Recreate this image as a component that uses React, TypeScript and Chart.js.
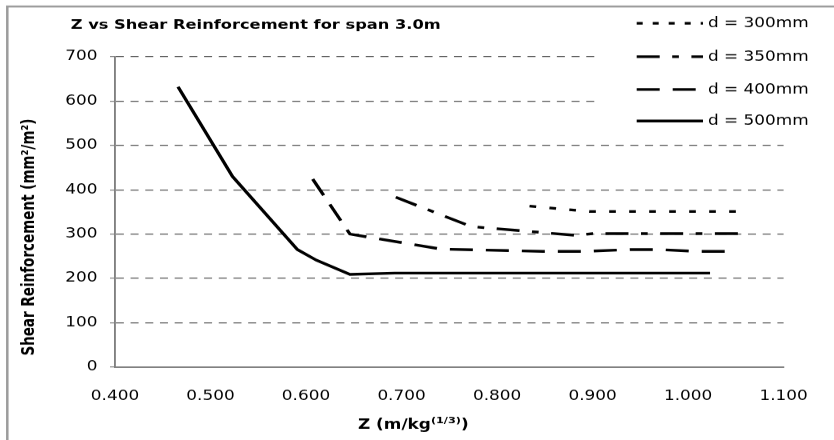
import React, { useEffect, useRef } from 'react';
import { Chart, registerables } from 'chart.js';

Chart.register(...registerables);

// ---------- data ----------
const seriesLabels = ['d = 300mm', 'd = 350mm', 'd = 400mm', 'd = 500mm'];

const zD300 = [0.834, 0.897, 1.063];
const vD300 = [363, 351, 351];

const zD350 = [0.694, 0.773, 0.883, 0.9, 1.056];
const vD350 = [383, 317, 297, 301, 301];

const zD400 = [0.607, 0.646, 0.742, 0.848, 0.89, 0.94, 0.97, 1.008, 1.039];
const vD400 = [424, 300, 266, 261, 261, 265, 265, 261, 261];

const zD500 = [0.466, 0.523, 0.591, 0.611, 0.646, 0.693, 0.743, 0.873, 1.023];
const vD500 = [632, 430, 265, 241, 209, 212, 212, 212, 212];

const xMin = 0.4;
const xMax = 1.1;
const xStep = 0.1;
const yMin = 0;
const yMax = 700;
const yStep = 100;

const titleText = 'Z vs Shear Reinforcement for span 3.0m';
const yTitleText = 'Shear Reinforcement (mm²/m²)';
const xTitleMain = 'Z (m/kg';
const xTitleSup = '(1/3)';
const xTitleEnd = ')';

// ---------- geometry (the reference is horizontally stretched) ----------
const OUT_W = 834;
const OUT_H = 440;
const LOG_W = 667;
const S = 834.01 / LOG_W; // device pixel ratio; the canvas is then squeezed vertically back to 440
const FONT = "'DejaVu Sans', sans-serif";

const dashes = [
  [6.7 / S, 13.3 / S],
  [23 / S, 12.5 / S, 6.7 / S, 12.5 / S],
  [23 / S, 13 / S],
  [],
];
const legendDashes = [[6 / S, 10 / S], dashes[1], dashes[2], []];

const toPts = (zs: number[], vs: number[]) => zs.map((z, i) => ({ x: z, y: vs[i] }));

const bgPlugin = {
  id: 'bg',
  beforeDraw(chart: any) {
    const ctx = chart.ctx as CanvasRenderingContext2D;
    ctx.save();
    ctx.fillStyle = '#ffffff';
    ctx.fillRect(0, 0, chart.width, chart.height);
    ctx.restore();
  },
};

const decorPlugin = {
  id: 'decor',
  afterDraw(chart: any) {
    const ctx = chart.ctx as CanvasRenderingContext2D;
    ctx.save();
    // outer frame
    ctx.strokeStyle = '#9c9c9c';
    ctx.lineWidth = 2;
    ctx.strokeRect(7.3 / S, 6.5, 900, 500);

    // title
    ctx.fillStyle = '#000';
    ctx.font = `bold 13px ${FONT}`;
    ctx.textAlign = 'left';
    ctx.textBaseline = 'alphabetic';
    ctx.fillText(titleText, 70.7 / S, 28.5);

    // y title
    ctx.save();
    ctx.translate(29.5 / S, 237);
    ctx.rotate(-Math.PI / 2);
    ctx.font = `bold 13.5px ${FONT}`;
    ctx.textAlign = 'center';
    ctx.textBaseline = 'middle';
    ctx.fillText(yTitleText, 0, 0);
    ctx.restore();

    // x title
    let x = 358 / S;
    const base = 429;
    ctx.font = `bold 13.5px ${FONT}`;
    ctx.fillText(xTitleMain, x, base);
    x += ctx.measureText(xTitleMain).width;
    ctx.font = `bold 9px ${FONT}`;
    ctx.fillText(xTitleSup, x, base - 6);
    x += ctx.measureText(xTitleSup).width;
    ctx.font = `bold 13.5px ${FONT}`;
    ctx.fillText(xTitleEnd, x, base);

    // legend
    ctx.fillStyle = '#ffffff';
    ctx.fillRect(600 / S, 40, 232 / S, 92);
    const rows = [23.3, 56.7, 89.5, 121];
    const lx1 = 636.7 / S;
    const lx2 = 703 / S;
    chart.data.datasets.forEach((ds: any, i: number) => {
      ctx.strokeStyle = '#000';
      ctx.lineWidth = 2.7;
      ctx.lineCap = 'butt';
      ctx.setLineDash(legendDashes[i]);
      ctx.beginPath();
      ctx.moveTo(lx1, rows[i]);
      ctx.lineTo(lx2, rows[i]);
      ctx.stroke();
      ctx.setLineDash([]);
      ctx.fillStyle = '#000';
      ctx.font = `13.5px ${FONT}`;
      ctx.textAlign = 'left';
      ctx.textBaseline = 'middle';
      ctx.fillText(ds.label, 708 / S, rows[i] + 0.5);
    });
    ctx.restore();
  },
};

export default function App() {
  const ref = useRef<HTMLCanvasElement | null>(null);

  useEffect(() => {
    document.body.style.margin = '0';
    const canvas = ref.current;
    if (!canvas) return;
    const mk = (i: number, zs: number[], vs: number[]) => ({
      label: seriesLabels[i],
      data: toPts(zs, vs),
      borderColor: '#000000',
      backgroundColor: '#000000',
      borderWidth: 2.7,
      borderDash: dashes[i],
      borderCapStyle: 'butt',
      showLine: true,
      pointRadius: 0,
      pointHoverRadius: 0,
      fill: false,
      tension: 0,
    });
    const chart = new Chart(canvas, {
      type: 'scatter',
      data: {
        datasets: [
          mk(0, zD300, vD300),
          mk(1, zD350, vD350),
          mk(2, zD400, vD400),
          mk(3, zD500, vD500),
        ],
      },
      options: {
        responsive: false,
        devicePixelRatio: S,
        animation: false,
        events: [],
        layout: { padding: { top: 56.7, right: LOG_W - 800 / S, left: 0, bottom: 0 } },
        plugins: {
          legend: { display: false },
          title: { display: false },
          tooltip: { enabled: false },
        },
        scales: {
          x: {
            type: 'linear',
            min: xMin,
            max: xMax,
            ticks: {
              stepSize: xStep,
              autoSkip: false,
              maxRotation: 0,
              padding: 21,
              color: '#000',
              font: { family: FONT, size: 13.5 },
              callback: (v: any) => Number(v).toFixed(3),
            },
            grid: {
              drawOnChartArea: false,
              drawTicks: false,
              color: '#808080',
              lineWidth: 1,
            },
            border: { display: true, color: '#808080', width: 1.5 },
            afterFit: (s: any) => {
              s.height = 73;
            },
          },
          y: {
            type: 'linear',
            min: yMin,
            max: yMax,
            ticks: {
              stepSize: yStep,
              padding: 10,
              color: '#000',
              font: { family: FONT, size: 13.5 },
            },
            grid: {
              drawTicks: true,
              tickLength: 4,
              color: '#555555',
              tickColor: '#808080',
              tickBorderDash: [],
              lineWidth: 1,
            },
            border: { display: true, color: '#808080', width: 1.5, dash: [8 / S, 6.7 / S] },
            afterFit: (s: any) => {
              s.width = 115 / S;
            },
          },
        },
      },
      plugins: [bgPlugin, decorPlugin],
    } as any);
    return () => chart.destroy();
  }, []);

  return (
    <div style={{ width: OUT_W, height: OUT_H, overflow: 'hidden' }}>
      <canvas
        ref={ref}
        width={LOG_W}
        height={OUT_H}
        style={{ width: OUT_W + 'px', height: OUT_H + 'px', display: 'block' }}
      />
    </div>
  );
}
